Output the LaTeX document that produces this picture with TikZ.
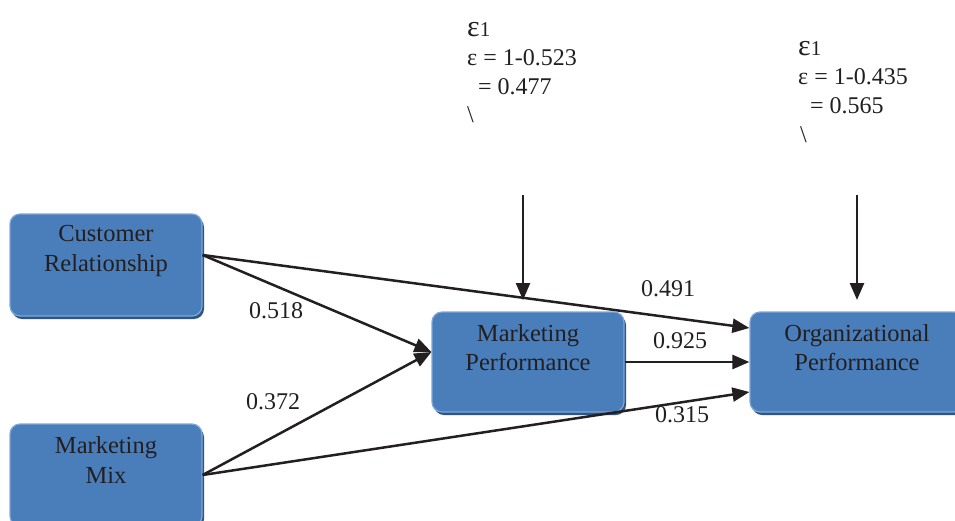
\documentclass[tikz,border=0pt]{standalone}
\usepackage{fontspec}
\setmainfont{Liberation Serif}
\usetikzlibrary{arrows.meta}
\definecolor{boxblue}{HTML}{4A7EBB}
\definecolor{boxdark}{HTML}{2D5687}
\definecolor{boxlight}{HTML}{7FA7D9}
\definecolor{ink}{HTML}{231F20}
\begin{document}
\begin{tikzpicture}[x=1pt,y=-1pt,
  box/.style={rounded corners=10pt, fill=boxblue, draw=boxlight, line width=1.2pt,
    minimum width=192pt, minimum height=102pt, inner sep=0pt,
    preaction={fill=boxdark, transform canvas={shift={(2pt,-3pt)}}}},
  boxtxt/.style={font=\fontsize{24.5}{29.5}\selectfont, align=center, text=ink, inner sep=0pt},
  num/.style={font=\fontsize{24}{28}\selectfont, text=ink, inner sep=0pt},
  etxt/.style={font=\fontsize{24}{28}\selectfont, text=ink, inner sep=0pt, anchor=base west},
  conn/.style={draw=ink, line width=2.5pt, -{Triangle[length=17pt,width=14pt]}}]
\useasboundingbox (0,0) rectangle (955,520);

% boxes
\node[box] (cr) at (106,265) {};
\node[boxtxt] (crt) at (106,251) {Customer\\Relationship};
\node[box] (mm) at (106,475) {};
\node[boxtxt] (mmt) at (106,460) {Marketing\\Mix};
\node[box, minimum height=100pt] (mp) at (528,362) {};
\node[boxtxt] (mpt) at (528,347.5) {Marketing\\Performance};
\node[box, minimum width=214pt, minimum height=100pt] (op) at (857,362) {};
\node[boxtxt] (opt) at (857,347.5) {Organizational\\Performance};

% connectors
\draw[conn] ([yshift=10pt]cr.east) -- ([yshift=10pt]mp.west);
\draw[conn] (mm.east) -- ([yshift=10pt]mp.west);
\draw[conn] ([yshift=10pt]cr.east) -- ([yshift=34pt]op.west);
\draw[conn] (mp.east) -- (op.west);
\draw[conn] (mm.east) -- ([yshift=-30pt]op.west);

\coordinate (e1top) at (523,195);
\coordinate (e1bot) at (523,300);
\coordinate (e2top) at (857,195);
\coordinate (e2bot) at (857,300);
\draw[conn] (e1top) -- (e1bot);
\draw[conn] (e2top) -- (e2bot);

% path coefficients
\node[num] (w1) at (276,311) {0.518};
\node[num] (w2) at (273,402) {0.372};
\node[num] (w3) at (668,289) {0.491};
\node[num] (w4) at (680,341) {0.925};
\node[num] (w5) at (682,415) {0.315};

% error terms
\node[etxt] (l1) at (467,36) {{\fontsize{30}{30}\selectfont ε}{\fontsize{21}{21}\selectfont 1}};
\node[etxt] (l2) at (467,65) {ε = 1-0.523};
\node[etxt] (l3) at (478,94) {= 0.477};
\node[etxt] (l4) at (467,122) {\textbackslash};

\node[etxt] (r1) at (798,55) {{\fontsize{30}{30}\selectfont ε}{\fontsize{21}{21}\selectfont 1}};
\node[etxt] (r2) at (798,84) {ε = 1-0.435};
\node[etxt] (r3) at (810,113) {= 0.565};
\node[etxt] (r4) at (800,142) {\textbackslash};
\end{tikzpicture}
\end{document}
